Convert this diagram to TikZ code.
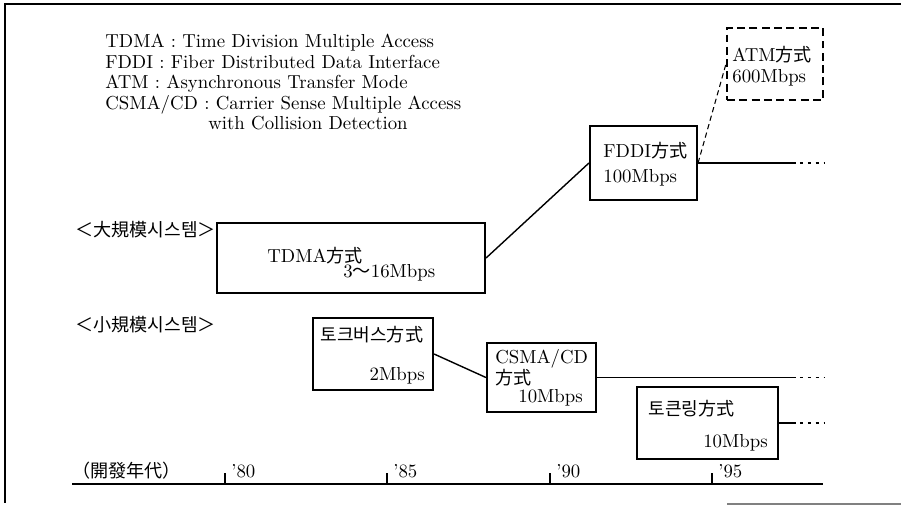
\documentclass[tikz,border=0pt]{standalone}
\usepackage{fontspec}
\newfontfamily\cjk{Noto Sans CJK KR}
\newcommand{\krtext}[1]{{\cjk\fontsize{10.3}{12}\selectfont #1}}
\usetikzlibrary{fit}

\begin{document}
\begin{tikzpicture}[
  x=0.02cm, y=-0.02cm,
  every node/.style={inner sep=0pt},
  sysbox/.style={draw, line width=1.2pt, inner sep=0pt},
  planbox/.style={draw, line width=1.2pt, inner sep=0pt, dash pattern=on 4.5pt off 2.5pt},
  link/.style={draw, line width=0.8pt},
  planlink/.style={draw, line width=0.6pt, dash pattern=on 3pt off 2pt},
  trail/.style={draw, line width=0.8pt, dash pattern=on 2pt off 2.5pt},
  tick/.style={draw, line width=0.6pt},
  frame/.style={draw, line width=1pt},
  txt/.style={anchor=base west, font=\fontsize{10.7}{12}\selectfont},
  rtxt/.style={anchor=base east, font=\fontsize{10.7}{12}\selectfont}]

  \useasboundingbox (0,0) rectangle (901,506);

  % frame of the scanned figure
  \draw[frame] (901,4) -- (5,4) -- (5,503);
  \draw[frame, gray] (727,504) -- (901,504);

  % legend
  \node[txt] (legend1) at (105,48)  {TDMA : Time Division Multiple Access};
  \node[txt] (legend2) at (105,69)  {FDDI : Fiber Distributed Data Interface};
  \node[txt] (legend3) at (105,89)  {ATM : Asynchronous Transfer Mode};
  \node[txt] (legend4) at (105,110) {CSMA/CD : Carrier Sense Multiple Access};
  \node[txt] (legend5) at (208,130) {with Collision Detection};

  % system classes
  \node[txt] (large) at (75,236) {\krtext{＜大規模시스템＞}};
  \node[txt] (small) at (75,331) {\krtext{＜小規模시스템＞}};

  % boxes
  \node[sysbox,  fit={(217,223) (485,293)}] (tdma)  {};
  \node[sysbox,  fit={(590,126) (697,200)}] (fddi)  {};
  \node[planbox, fit={(727,28) (823,100)}]  (atm)   {};
  \node[sysbox,  fit={(313,318) (433,390)}] (tbus)  {};
  \node[sysbox,  fit={(487,343) (596,412)}] (csma)  {};
  \node[sysbox,  fit={(637,387) (778,459)}] (tring) {};

  % texts in the boxes
  \node[txt]  (tdma-name)  at (267,262) {TDMA\krtext{方式}};
  \node[txt]  (tdma-rate)  at (343,277) {3\krtext{～}16Mbps};
  \node[txt]  (fddi-name)  at (603,158) {FDDI\krtext{方式}};
  \node[txt]  (fddi-rate)  at (603,183) {100Mbps};
  \node[txt]  (atm-name)   at (732,62)  {ATM\krtext{方式}};
  \node[txt]  (atm-rate)   at (732,83)  {600Mbps};
  \node[txt]  (tbus-name)  at (320,341) {\krtext{토크버스方式}};
  \node[rtxt] (tbus-rate)  at (425,380) {2Mbps};
  \node[txt]  (csma-name)  at (495,363) {CSMA/CD};
  \node[txt]  (csma-kind)  at (495,384) {\krtext{方式}};
  \node[txt]  (csma-rate)  at (518,402) {10Mbps};
  \node[txt]  (tring-name) at (648,415) {\krtext{토큰링方式}};
  \node[rtxt] (tring-rate) at (768,447) {10Mbps};

  % successions
  \draw[link]     (tdma.east) -- (fddi.west);
  \draw[planlink] (fddi.east) -- (atm.west);
  \draw[link]     (tbus.east) -- (csma.west);

  % lines running on to the right
  \coordinate (solidend) at (792,0);
  \coordinate (trailend) at (825,0);
  \foreach \n in {fddi,csma,tring} {
    \coordinate (\n-a) at (\n.east -| solidend);
    \coordinate (\n-b) at (\n.east -| trailend);
    \draw[link]  (\n.east) -- (\n-a);
    \draw[trail] (\n-a) -- (\n-b);
  }

  % time axis
  \coordinate (axis-l) at (72,484);
  \coordinate (axis-r) at (823,484);
  \draw[link] (axis-l) -- (axis-r);
  \node[txt] (era) at (72,477) {\krtext{（開發年代）}};
  \foreach \x/\yr in {225/80,387/85,550/90,712/95} {
    \draw[tick] (\x,484) -- (\x,473);
    \node[txt] (yr\yr) at ({\x+6},477) {'\yr};
  }
\end{tikzpicture}
\end{document}
